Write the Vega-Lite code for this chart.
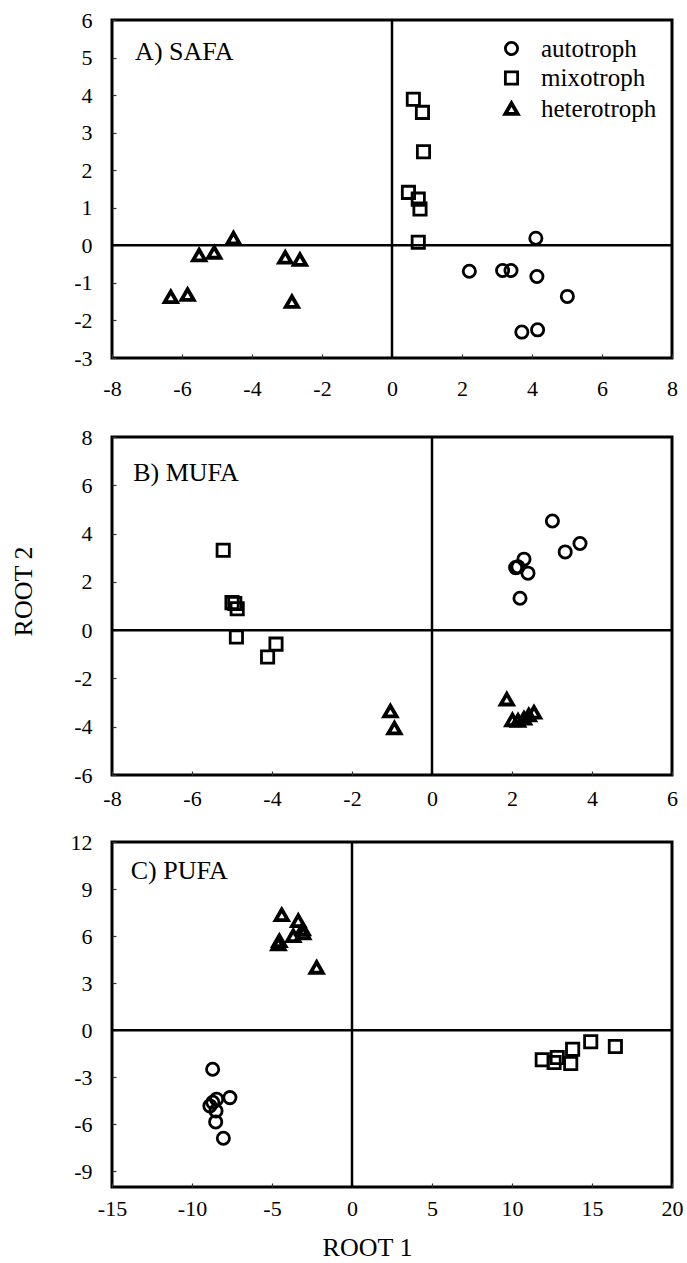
{
  "$schema": "https://vega.github.io/schema/vega-lite/v6.json",
  "background": "white",
  "padding": {"left": 8, "top": 7, "right": 5, "bottom": 0},
  "config": {
    "font": "Liberation Serif",
    "view": {"stroke": "black", "strokeWidth": 3},
    "axis": {
      "grid": false, "domain": false, "ticks": true, "tickSize": -4, "tickWidth": 1.2, "tickColor": "#333333",
      "labelFont": "Liberation Serif", "labelFontSize": 22, "labelColor": "black",
      "labelPadding": 24, "labelFlush": false, "labelOverlap": false,
      "labelExpr": "'' + datum.value",
      "titleFont": "Liberation Serif", "titleFontSize": 26, "titleFontWeight": "normal", "titleColor": "black"
    },
    "legend": {
      "labelFont": "Liberation Serif", "labelFontSize": 25, "labelColor": "black",
      "symbolStrokeWidth": 3, "symbolStrokeColor": "black", "symbolSize": 150
    }
  },
  "datasets": {
    "pts": [
      {"panel": "A", "group": "heterotroph", "root1": -6.32, "root2": -1.37},
      {"panel": "A", "group": "heterotroph", "root1": -5.84, "root2": -1.31},
      {"panel": "A", "group": "heterotroph", "root1": -5.51, "root2": -0.26},
      {"panel": "A", "group": "heterotroph", "root1": -5.08, "root2": -0.19},
      {"panel": "A", "group": "heterotroph", "root1": -4.53, "root2": 0.19},
      {"panel": "A", "group": "heterotroph", "root1": -3.05, "root2": -0.32},
      {"panel": "A", "group": "heterotroph", "root1": -2.63, "root2": -0.38},
      {"panel": "A", "group": "heterotroph", "root1": -2.86, "root2": -1.50},
      {"panel": "A", "group": "mixotroph", "root1": 0.61, "root2": 3.89},
      {"panel": "A", "group": "mixotroph", "root1": 0.87, "root2": 3.54},
      {"panel": "A", "group": "mixotroph", "root1": 0.90, "root2": 2.49},
      {"panel": "A", "group": "mixotroph", "root1": 0.47, "root2": 1.41},
      {"panel": "A", "group": "mixotroph", "root1": 0.75, "root2": 1.23},
      {"panel": "A", "group": "mixotroph", "root1": 0.80, "root2": 0.97},
      {"panel": "A", "group": "mixotroph", "root1": 0.75, "root2": 0.08},
      {"panel": "A", "group": "autotroph", "root1": 4.11, "root2": 0.19},
      {"panel": "A", "group": "autotroph", "root1": 2.21, "root2": -0.69},
      {"panel": "A", "group": "autotroph", "root1": 3.16, "root2": -0.67},
      {"panel": "A", "group": "autotroph", "root1": 3.40, "root2": -0.67},
      {"panel": "A", "group": "autotroph", "root1": 4.14, "root2": -0.83},
      {"panel": "A", "group": "autotroph", "root1": 5.01, "root2": -1.36},
      {"panel": "A", "group": "autotroph", "root1": 3.71, "root2": -2.31},
      {"panel": "A", "group": "autotroph", "root1": 4.16, "root2": -2.25},
      {"panel": "B", "group": "mixotroph", "root1": -5.22, "root2": 3.31},
      {"panel": "B", "group": "mixotroph", "root1": -5.00, "root2": 1.14},
      {"panel": "B", "group": "mixotroph", "root1": -4.93, "root2": 1.10},
      {"panel": "B", "group": "mixotroph", "root1": -4.87, "root2": 0.89},
      {"panel": "B", "group": "mixotroph", "root1": -4.89, "root2": -0.28},
      {"panel": "B", "group": "mixotroph", "root1": -4.11, "root2": -1.11},
      {"panel": "B", "group": "mixotroph", "root1": -3.90, "root2": -0.58},
      {"panel": "B", "group": "heterotroph", "root1": -1.04, "root2": -3.35},
      {"panel": "B", "group": "heterotroph", "root1": -0.94, "root2": -4.06},
      {"panel": "B", "group": "heterotroph", "root1": 1.87, "root2": -2.86},
      {"panel": "B", "group": "heterotroph", "root1": 2.01, "root2": -3.72},
      {"panel": "B", "group": "heterotroph", "root1": 2.15, "root2": -3.74},
      {"panel": "B", "group": "heterotroph", "root1": 2.30, "root2": -3.65},
      {"panel": "B", "group": "heterotroph", "root1": 2.42, "root2": -3.52},
      {"panel": "B", "group": "heterotroph", "root1": 2.55, "root2": -3.40},
      {"panel": "B", "group": "autotroph", "root1": 3.01, "root2": 4.52},
      {"panel": "B", "group": "autotroph", "root1": 2.30, "root2": 2.94},
      {"panel": "B", "group": "autotroph", "root1": 2.09, "root2": 2.59},
      {"panel": "B", "group": "autotroph", "root1": 2.15, "root2": 2.62},
      {"panel": "B", "group": "autotroph", "root1": 2.40, "root2": 2.36},
      {"panel": "B", "group": "autotroph", "root1": 2.20, "root2": 1.32},
      {"panel": "B", "group": "autotroph", "root1": 3.33, "root2": 3.24},
      {"panel": "B", "group": "autotroph", "root1": 3.70, "root2": 3.59},
      {"panel": "C", "group": "heterotroph", "root1": -4.39, "root2": 7.36},
      {"panel": "C", "group": "heterotroph", "root1": -3.36, "root2": 6.98},
      {"panel": "C", "group": "heterotroph", "root1": -3.08, "root2": 6.45},
      {"panel": "C", "group": "heterotroph", "root1": -3.05, "root2": 6.20},
      {"panel": "C", "group": "heterotroph", "root1": -3.67, "root2": 6.02},
      {"panel": "C", "group": "heterotroph", "root1": -4.54, "root2": 5.70},
      {"panel": "C", "group": "heterotroph", "root1": -4.60, "root2": 5.50},
      {"panel": "C", "group": "heterotroph", "root1": -2.21, "root2": 4.00},
      {"panel": "C", "group": "autotroph", "root1": -8.71, "root2": -2.49},
      {"panel": "C", "group": "autotroph", "root1": -8.46, "root2": -4.40},
      {"panel": "C", "group": "autotroph", "root1": -7.63, "root2": -4.30},
      {"panel": "C", "group": "autotroph", "root1": -8.88, "root2": -4.83},
      {"panel": "C", "group": "autotroph", "root1": -8.50, "root2": -5.15},
      {"panel": "C", "group": "autotroph", "root1": -8.52, "root2": -5.85},
      {"panel": "C", "group": "autotroph", "root1": -8.04, "root2": -6.89},
      {"panel": "C", "group": "autotroph", "root1": -8.70, "root2": -4.60},
      {"panel": "C", "group": "mixotroph", "root1": 11.89, "root2": -1.89},
      {"panel": "C", "group": "mixotroph", "root1": 12.83, "root2": -1.74},
      {"panel": "C", "group": "mixotroph", "root1": 12.63, "root2": -2.06},
      {"panel": "C", "group": "mixotroph", "root1": 13.67, "root2": -2.13},
      {"panel": "C", "group": "mixotroph", "root1": 13.79, "root2": -1.21},
      {"panel": "C", "group": "mixotroph", "root1": 14.92, "root2": -0.74},
      {"panel": "C", "group": "mixotroph", "root1": 16.46, "root2": -1.04}
    ]
  },
  "bounds": "flush",
  "spacing": 822,
  "resolve": {"scale": {"x": "independent", "y": "independent", "shape": "independent", "strokeWidth": "independent"}, "axis": {"x": "independent", "y": "independent"}, "legend": {"shape": "independent"}},
  "vconcat": [
    {
      "bounds": "flush",
      "spacing": 79,
      "resolve": {"scale": {"x": "independent", "y": "independent", "shape": "independent", "strokeWidth": "independent"}, "axis": {"x": "independent", "y": "independent"}, "legend": {"shape": "independent"}},
      "vconcat": [
        {
          "width": 560, "height": 338,
          "layer": [
            {
              "data": {"name": "pts"},
              "transform": [{"filter": "datum.panel == 'A'"}],
              "mark": {"type": "point", "filled": false, "stroke": "black", "size": 150, "opacity": 1},
              "encoding": {
                "x": {"field": "root1", "type": "quantitative", "scale": {"domain": [-8, 8], "nice": false, "zero": false}, "axis": {"values": [-8, -6, -4, -2, 0, 2, 4, 6, 8], "tickCount": 20, "title": null, "labelPadding": 24}},
                "y": {"field": "root2", "type": "quantitative", "scale": {"domain": [-3, 6], "nice": false, "zero": false}, "axis": {"values": [-3, -2, -1, 0, 1, 2, 3, 4, 5, 6], "tickCount": 20, "title": null}},
                "shape": {"field": "group", "type": "nominal", "scale": {"domain": ["autotroph", "mixotroph", "heterotroph"], "range": ["circle", "square", "triangle-up"]},
                  "legend": {"title": null, "orient": "none", "legendX": 387, "legendY": 16, "padding": 0, "labelOffset": 17, "rowPadding": 3.5}},
                "strokeWidth": {"field": "group", "type": "nominal", "scale": {"type": "ordinal", "domain": ["autotroph", "mixotroph", "heterotroph"], "range": [2.8, 2.8, 3.8]}, "legend": null}
              }
            },
            {
              "data": {"values": [{}]},
              "mark": {"type": "rule", "color": "black", "strokeWidth": 2.5},
              "encoding": {"x": {"datum": 0, "type": "quantitative", "scale": {"domain": [-8, 8], "nice": false, "zero": false}}}
            },
            {
              "data": {"values": [{}]},
              "mark": {"type": "rule", "color": "black", "strokeWidth": 2.5},
              "encoding": {"y": {"datum": 0, "type": "quantitative", "scale": {"domain": [-3, 6], "nice": false, "zero": false}}}
            },
            {
              "data": {"values": [{}]},
              "mark": {"type": "text", "align": "left", "baseline": "alphabetic", "fontSize": 26, "font": "Liberation Serif", "color": "black"},
              "encoding": {
                "x": {"datum": -7.34, "type": "quantitative"},
                "y": {"datum": 4.93, "type": "quantitative"},
                "text": {"value": "A) SAFA"}
              }
            }
          ]
        },
        {
          "width": 560, "height": 338,
          "layer": [
            {
              "data": {"name": "pts"},
              "transform": [{"filter": "datum.panel == 'B'"}],
              "mark": {"type": "point", "filled": false, "stroke": "black", "size": 150, "opacity": 1},
              "encoding": {
                "x": {"field": "root1", "type": "quantitative", "scale": {"domain": [-8, 6], "nice": false, "zero": false}, "axis": {"values": [-8, -6, -4, -2, 0, 2, 4, 6], "tickCount": 20, "title": null, "labelPadding": 17}},
                "y": {"field": "root2", "type": "quantitative", "scale": {"domain": [-6, 8], "nice": false, "zero": false}, "axis": {"values": [-6, -4, -2, 0, 2, 4, 6, 8], "tickCount": 20, "title": "ROOT 2", "titleX": -76, "titleY": 154}},
                "shape": {"field": "group", "type": "nominal", "scale": {"domain": ["autotroph", "mixotroph", "heterotroph"], "range": ["circle", "square", "triangle-up"]}, "legend": null},
                "strokeWidth": {"field": "group", "type": "nominal", "scale": {"type": "ordinal", "domain": ["autotroph", "mixotroph", "heterotroph"], "range": [2.8, 2.8, 3.8]}, "legend": null}
              }
            },
            {
              "data": {"values": [{}]},
              "mark": {"type": "rule", "color": "black", "strokeWidth": 2.5},
              "encoding": {"x": {"datum": 0, "type": "quantitative", "scale": {"domain": [-8, 6], "nice": false, "zero": false}}}
            },
            {
              "data": {"values": [{}]},
              "mark": {"type": "rule", "color": "black", "strokeWidth": 2.5},
              "encoding": {"y": {"datum": 0, "type": "quantitative", "scale": {"domain": [-6, 8], "nice": false, "zero": false}}}
            },
            {
              "data": {"values": [{}]},
              "mark": {"type": "text", "align": "left", "baseline": "alphabetic", "fontSize": 26, "font": "Liberation Serif", "color": "black"},
              "encoding": {
                "x": {"datum": -7.47, "type": "quantitative"},
                "y": {"datum": 6.18, "type": "quantitative"},
                "text": {"value": "B) MUFA"}
              }
            }
          ]
        }
      ]
    },
    {
      "width": 560, "height": 345,
      "layer": [
        {
          "data": {"name": "pts"},
          "transform": [{"filter": "datum.panel == 'C'"}],
          "mark": {"type": "point", "filled": false, "stroke": "black", "size": 150, "opacity": 1},
          "encoding": {
            "x": {"field": "root1", "type": "quantitative", "scale": {"domain": [-15, 20], "nice": false, "zero": false}, "axis": {"values": [-15, -10, -5, 0, 5, 10, 15, 20], "tickCount": 20, "title": "ROOT 1", "labelPadding": 15, "titleX": 255, "titleY": 47}},
            "y": {"field": "root2", "type": "quantitative", "scale": {"domain": [-10, 12], "nice": false, "zero": false}, "axis": {"values": [-9, -6, -3, 0, 3, 6, 9, 12], "tickCount": 20, "title": null}},
            "shape": {"field": "group", "type": "nominal", "scale": {"domain": ["autotroph", "mixotroph", "heterotroph"], "range": ["circle", "square", "triangle-up"]}, "legend": null},
            "strokeWidth": {"field": "group", "type": "nominal", "scale": {"type": "ordinal", "domain": ["autotroph", "mixotroph", "heterotroph"], "range": [2.8, 2.8, 3.8]}, "legend": null}
          }
        },
        {
          "data": {"values": [{}]},
          "mark": {"type": "rule", "color": "black", "strokeWidth": 2.5},
          "encoding": {"x": {"datum": 0, "type": "quantitative", "scale": {"domain": [-15, 20], "nice": false, "zero": false}}}
        },
        {
          "data": {"values": [{}]},
          "mark": {"type": "rule", "color": "black", "strokeWidth": 2.5},
          "encoding": {"y": {"datum": 0, "type": "quantitative", "scale": {"domain": [-10, 12], "nice": false, "zero": false}}}
        },
        {
          "data": {"values": [{}]},
          "mark": {"type": "text", "align": "left", "baseline": "alphabetic", "fontSize": 26, "font": "Liberation Serif", "color": "black"},
          "encoding": {
            "x": {"datum": -13.83, "type": "quantitative"},
            "y": {"datum": 9.63, "type": "quantitative"},
            "text": {"value": "C) PUFA"}
          }
        }
      ]
    }
  ]
}
